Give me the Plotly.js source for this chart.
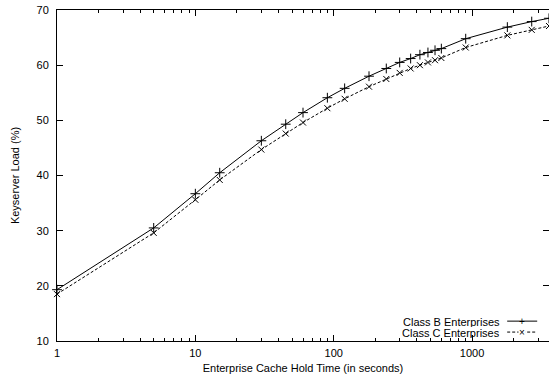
<!DOCTYPE html>
<html>
<head>
<meta charset="utf-8">
<script src="https://cdn.plot.ly/plotly-3.0.1.min.js"></script>
<style>html,body{margin:0;padding:0;background:#fff;}#chart{width:549px;height:377px;}</style>
</head>
<body>
<div id="chart"></div>
<script>
const holdTimes = [1, 5, 10, 15, 30, 45, 60, 90, 120, 180, 240, 300, 360, 420, 480, 540, 600, 900, 1800, 2700, 3600];
const classB = [19.3, 30.5, 36.7, 40.5, 46.3, 49.3, 51.4, 54.1, 55.8, 58.0, 59.4, 60.5, 61.2, 61.9, 62.3, 62.7, 63.0, 64.8, 66.9, 67.9, 68.5];
const classC = [18.5, 29.6, 35.6, 39.2, 44.7, 47.6, 49.6, 52.2, 53.9, 56.1, 57.5, 58.6, 59.4, 60.0, 60.5, 60.9, 61.3, 63.2, 65.4, 66.4, 67.1];
const seriesNames = ["Class B Enterprises", "Class C Enterprises"];
const xTickVals = [1, 10, 100, 1000];
const xTickText = ["1", "10", "100", "1000"];
const xMinorTickVals = [2, 3, 4, 5, 6, 7, 8, 9, 20, 30, 40, 50, 60, 70, 80, 90, 200, 300, 400, 500, 600, 700, 800, 900, 2000, 3000];
const yTickVals = [10, 20, 30, 40, 50, 60, 70];

const font = {family: "Liberation Sans, Arial, sans-serif", size: 11, color: "#000"};

const traces = [
  {x: holdTimes, y: classB, name: seriesNames[0], mode: "lines+markers", type: "scatter",
   line: {color: "#000", width: 1, dash: "solid"},
   marker: {symbol: "cross-thin-open", size: 7, color: "#000", line: {color: "#000", width: 1}},
   showlegend: false, cliponaxis: false},
  {x: holdTimes, y: classC, name: seriesNames[1], mode: "lines+markers", type: "scatter",
   line: {color: "#000", width: 1, dash: "3px,2px"},
   marker: {symbol: "x-thin-open", size: 6, color: "#000", line: {color: "#000", width: 1}},
   showlegend: false, cliponaxis: false}
];

// custom gnuplot-style legend (text right-aligned, sample on the right)
const legX0 = 0.915, legX1 = 0.976;
const legY = [0.060, 0.027];
const legMid = (legX0 + legX1) / 2;
const shapes = [
  {type: "line", xref: "paper", yref: "paper", x0: legX0, x1: legX1, y0: legY[0], y1: legY[0], line: {color: "#000", width: 1}},
  {type: "line", xref: "paper", yref: "paper", x0: legX0, x1: legX1, y0: legY[1], y1: legY[1], line: {color: "#000", width: 1, dash: "3px,2px"}}
];
const annotations = [
  {xref: "paper", yref: "paper", x: legX0 - 0.012, y: legY[0], xanchor: "right", yanchor: "middle", text: seriesNames[0], showarrow: false, font: font, height: 11, borderpad: 0},
  {xref: "paper", yref: "paper", x: legX0 - 0.012, y: legY[1], xanchor: "right", yanchor: "middle", text: seriesNames[1], showarrow: false, font: font, height: 11, borderpad: 0},
  {xref: "paper", yref: "paper", x: legMid, y: legY[0], xanchor: "center", yanchor: "middle", text: "+", showarrow: false, font: {family: font.family, size: 10, color: "#000"}, height: 10, borderpad: 0},
  {xref: "paper", yref: "paper", x: legMid, y: legY[1], xanchor: "center", yanchor: "middle", text: "×", showarrow: false, font: {family: font.family, size: 10, color: "#000"}, bgcolor: "#fff", height: 10, borderpad: 0}
];

const layout = {
  width: 549, height: 377,
  margin: {l: 57, r: 0, t: 10, b: 36},
  paper_bgcolor: "#fff", plot_bgcolor: "#fff",
  font: font,
  showlegend: false,
  xaxis: {
    type: "log", range: [0, Math.log10(3600)],
    tickmode: "array", tickvals: xTickVals, ticktext: xTickText,
    ticks: "inside", ticklen: 6, tickwidth: 1, tickcolor: "#000",
    minor: {tickmode: "array", tickvals: xMinorTickVals, ticks: "inside", ticklen: 3, tickcolor: "#000", tickwidth: 1, showgrid: false},
    showline: true, linecolor: "#000", linewidth: 1, mirror: "ticks",
    showgrid: false, zeroline: false,
    tickfont: font, ticklabelstandoff: 2,
    title: {text: "Enterprise Cache Hold Time (in seconds)", font: font, standoff: 6}
  },
  yaxis: {
    range: [10, 70], tickvals: yTickVals,
    ticks: "inside", ticklen: 6, tickwidth: 1, tickcolor: "#000",
    showline: true, linecolor: "#000", linewidth: 1, mirror: "ticks",
    showgrid: false, zeroline: false,
    tickfont: font, ticklabelstandoff: 5,
    title: {text: "Keyserver Load (%)", font: font, standoff: 14}
  },
  shapes: shapes,
  annotations: annotations
};

Plotly.newPlot("chart", traces, layout, {staticPlot: true, displayModeBar: false});
</script>
</body>
</html>
